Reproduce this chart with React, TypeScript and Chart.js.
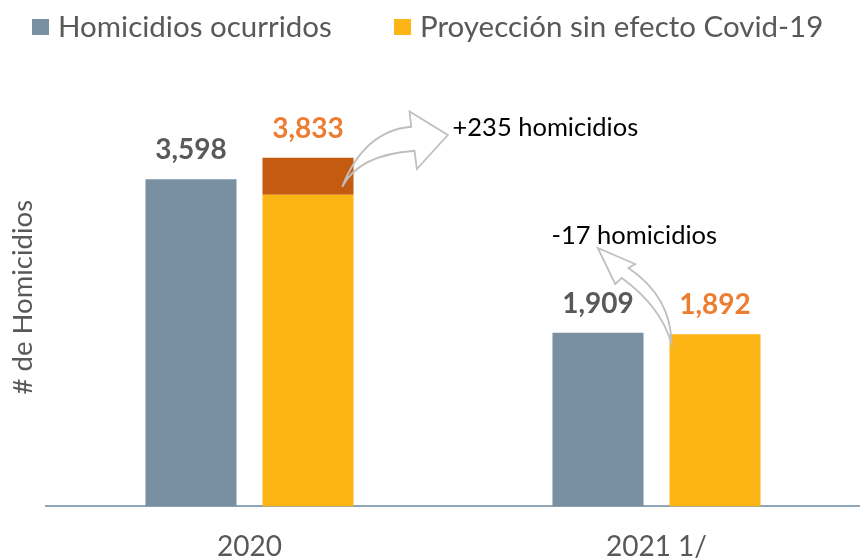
import React, { useEffect, useRef } from 'react';
import { Chart, registerables } from 'chart.js';

Chart.register(...registerables);

const categories = ['2020', '2021 1/'];
const seriesNames = ['Homicidios ocurridos', 'Proyección sin efecto Covid-19'];
const ocurridos = [3598, 1909];
const proyeccionBase = [3425, 1892];
const excesoCovid = [408, 0];
const annotationTexts = ['+235 homicidios', '-17 homicidios'];
const yTitle = '# de Homicidios';
const yMax = 4600;

const GRAY = '#7890A1';
const YELLOW = '#FDB515';
const DARK = '#C55A11';
const ORANGE_TXT = '#ED7D31';
const TEXT = '#595959';
const ARROW = '#BFBFBF';
const FONT = 'Lato, "Open Sans", sans-serif';

type Cmd = ['M' | 'L', number, number] | ['Q', number, number, number, number];

const arrowUp: Cmd[] = [
  ['M', -11.3, 29],
  ['Q', 10.8, -27, 57.7, -31],
  ['L', 56, -46.3],
  ['L', 94.3, -22.7],
  ['L', 63.3, 11.3],
  ['L', 61, -7],
  ['Q', 5.2, -3, -11.3, 29],
];

const arrowDown: Cmd[] = [
  ['M', 2, 9],
  ['Q', 1.5, -37.5, -41, -66.3],
  ['L', -34.3, -70.3],
  ['L', -71.7, -86.3],
  ['L', -54.3, -50.3],
  ['L', -47.7, -56.3],
  ['Q', -9.2, -28.4, 2, 9],
];

function drawArrow(ctx: CanvasRenderingContext2D, ax: number, ay: number, cmds: Cmd[]) {
  ctx.beginPath();
  for (const c of cmds) {
    if (c[0] === 'M') ctx.moveTo(ax + c[1], ay + c[2]);
    else if (c[0] === 'L') ctx.lineTo(ax + c[1], ay + c[2]);
    else ctx.quadraticCurveTo(ax + c[1], ay + c[2], ax + c[3], ay + c[4]);
  }
  ctx.closePath();
  ctx.strokeStyle = ARROW;
  ctx.lineWidth = 1.8;
  ctx.lineJoin = 'miter';
  ctx.stroke();
}

const decorPlugin = {
  id: 'decor',
  afterDatasetsDraw(chart: any) {
    const ctx: CanvasRenderingContext2D = chart.ctx;
    const yScale = chart.scales.y;
    const m0 = chart.getDatasetMeta(0);
    const m1 = chart.getDatasetMeta(1);
    const m2 = chart.getDatasetMeta(2);
    ctx.save();
    ctx.font = `bold 28px ${FONT}`;
    ctx.textAlign = 'center';
    ctx.textBaseline = 'middle';
    categories.forEach((_, i) => {
      const b0 = m0.data[i];
      ctx.fillStyle = TEXT;
      ctx.fillText(ocurridos[i].toLocaleString('en-US'), b0.x, b0.y - 29);
      const total = proyeccionBase[i] + excesoCovid[i];
      const yTop = yScale.getPixelForValue(total);
      ctx.fillStyle = ORANGE_TXT;
      ctx.fillText(total.toLocaleString('en-US'), m1.data[i].x, yTop - 29);
    });

    const d = m2.data[0];
    const a1x = d.x + d.width / 2;
    const a1y = d.y;
    drawArrow(ctx, a1x, a1y, arrowUp);
    const p = m1.data[1];
    const a2x = p.x - p.width / 2;
    const a2y = p.y;
    drawArrow(ctx, a2x, a2y, arrowDown);

    ctx.font = `25.5px ${FONT}`;
    ctx.fillStyle = '#000000';
    ctx.textAlign = 'left';
    ctx.textBaseline = 'alphabetic';
    ctx.fillText(annotationTexts[0], a1x + 99, a1y - 22);
    ctx.fillText(annotationTexts[1], a2x - 118, a2y - 90);
    ctx.restore();
  },
  afterDraw(chart: any) {
    const ctx: CanvasRenderingContext2D = chart.ctx;
    const area = chart.chartArea;
    ctx.save();
    ctx.font = `29.5px ${FONT}`;
    ctx.textBaseline = 'middle';
    ctx.textAlign = 'left';
    const legendColors = [GRAY, YELLOW];
    const boxX = [32, 394];
    seriesNames.forEach((name, i) => {
      ctx.fillStyle = legendColors[i];
      ctx.fillRect(boxX[i], 19, 17, 16);
      ctx.fillStyle = TEXT;
      ctx.fillText(name, boxX[i] + 26, 27);
    });
    ctx.translate(23, (area.top + area.bottom) / 2);
    ctx.rotate(-Math.PI / 2);
    ctx.textAlign = 'center';
    ctx.font = `27.5px ${FONT}`;
    ctx.fillStyle = TEXT;
    ctx.fillText(yTitle, 0, 0);
    ctx.restore();
  },
};

export default function App() {
  const ref = useRef<HTMLCanvasElement | null>(null);
  useEffect(() => {
    if (!ref.current) return;
    const chart = new Chart(ref.current, {
      type: 'bar',
      data: {
        labels: categories,
        datasets: [
          { label: seriesNames[0], data: ocurridos, backgroundColor: GRAY, stack: 'a' },
          { label: seriesNames[1], data: proyeccionBase, backgroundColor: YELLOW, stack: 'b' },
          { label: 'Exceso', data: excesoCovid.map((v) => (v ? v : null)), backgroundColor: DARK, stack: 'b' },
        ],
      },
      options: {
        animation: false,
        responsive: true,
        maintainAspectRatio: false,
        layout: { padding: { top: 88, left: 46, right: 0, bottom: -28 } },
        datasets: { bar: { categoryPercentage: 0.575, barPercentage: 0.778 } },
        plugins: { legend: { display: false }, tooltip: { enabled: false } },
        scales: {
          x: {
            grid: { display: false, drawTicks: false },
            border: { display: true, color: '#8FA6B8', width: 2 },
            ticks: { color: TEXT, font: { family: FONT, size: 28 }, padding: 24 },
          },
          y: { display: false, stacked: true, min: 0, max: yMax },
        },
      },
      plugins: [decorPlugin],
    } as any);
    return () => chart.destroy();
  }, []);
  return (
    <div style={{ position: 'absolute', left: 0, top: 0, width: 860, height: 560 }}>
      <canvas ref={ref} />
    </div>
  );
}
